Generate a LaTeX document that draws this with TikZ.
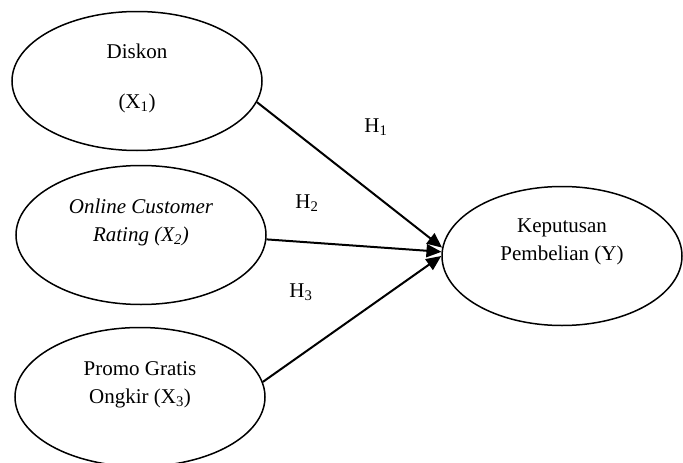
\documentclass[tikz,border=0pt]{standalone}
\usepackage{fontspec}
\setmainfont{Liberation Serif}
\usetikzlibrary{shapes.geometric,arrows.meta}
\begin{document}
\begin{tikzpicture}[x=1pt,y=-1pt,
  oval/.style={ellipse,draw,line width=1.5pt,inner sep=0pt,minimum width=250pt,minimum height=139pt},
  oval2/.style={ellipse,draw,line width=1.5pt,inner sep=0pt,minimum width=240pt,minimum height=139pt},
  txt/.style={align=center,font=\fontsize{21}{28}\selectfont,inner sep=0pt},
  hyp/.style={font=\fontsize{21}{24}\selectfont,inner sep=0pt},
  arr/.style={line width=2pt,-{Triangle[length=15pt,width=13pt]}}]
\useasboundingbox (0,0) rectangle (683,463);
\node[oval] (dis) at (137,81) {};
\node[oval] (onl) at (141,235) {};
\node[oval] (pro) at (140,397) {};
\node[oval2] (kep) at (562,256) {};
\node[txt] (dist) at (137,78) {Diskon\\[22pt](X\textsubscript{1})};
\node[txt] (onlt) at (141,222) {\itshape Online Customer\\\itshape Rating (X\textsubscript{2})};
\node[txt] (prot) at (140,385) {Promo Gratis\\Ongkir (X\textsubscript{3})};
\node[txt] (kept) at (562,242) {Keputusan\\Pembelian (Y)};
\node[hyp] (h1) at (376,127) {H\textsubscript{1}};
\node[hyp] (h2) at (307,203) {H\textsubscript{2}};
\node[hyp] (h3) at (301,292) {H\textsubscript{3}};
\draw[arr] (dis.-10.9) -- (kep.176);
\draw[arr] (onl.-2.8) -- (kep.178.3);
\draw[arr] (pro.7.5) -- (kep.180.8);
\end{tikzpicture}
\end{document}
